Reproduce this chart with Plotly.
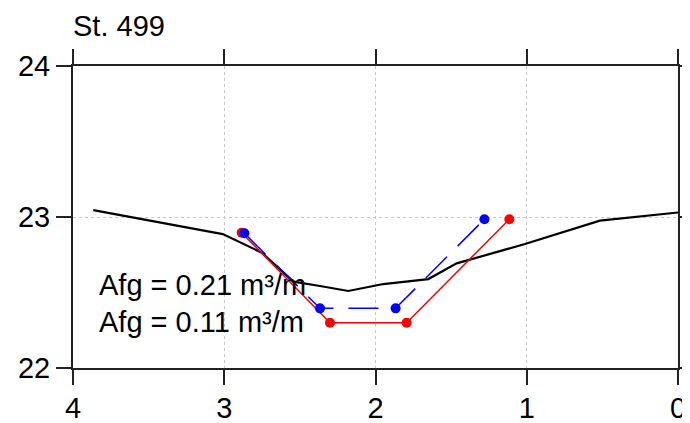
import plotly.graph_objects as go

# Profile (black)
profile_x = [3.866, 3.01, 2.752, 2.543, 2.367, 2.18, 1.948, 1.651, 1.463, 1.012, 0.516, 0.0]
profile_y = [23.046, 22.887, 22.764, 22.572, 22.543, 22.51, 22.556, 22.589, 22.693, 22.821, 22.976, 23.03]

# Red trench
red_x = [2.885, 2.301, 1.794, 1.115]
red_y = [22.896, 22.30, 22.30, 22.985]

# Blue trench (dashed)
blue_x = [2.867, 2.367, 1.867, 1.28]
blue_y = [22.892, 22.395, 22.395, 22.985]

title_text = "St. 499"
label_lines = ["Afg = 0.21 m³/m", "Afg = 0.11 m³/m"]
label_y = [22.55, 22.307]
label_x = 3.841

x_ticks = [4, 3, 2, 1, 0]
y_ticks = [22, 23, 24]

FONT = "Liberation Sans, Arial, sans-serif"

fig = go.Figure()
fig.add_trace(go.Scatter(x=profile_x, y=profile_y, mode="lines",
                         line=dict(color="black", width=2.2), showlegend=False))
fig.add_trace(go.Scatter(x=red_x, y=red_y, mode="lines+markers",
                         line=dict(color="red", width=1.5),
                         marker=dict(color="red", size=10), showlegend=False))
fig.add_trace(go.Scatter(x=blue_x, y=blue_y, mode="lines+markers",
                         line=dict(color="blue", width=1.5, dash="30px,15px"),
                         marker=dict(color="blue", size=10), showlegend=False))

for t, yy in zip(label_lines, label_y):
    fig.add_annotation(x=label_x, y=yy, xref="x", yref="y", text=t, showarrow=False,
                       xanchor="left", yanchor="middle",
                       font=dict(family=FONT, size=29, color="black"))

fig.add_annotation(x=0, y=1, xref="paper", yref="paper", text=title_text, showarrow=False,
                   xanchor="left", yanchor="bottom", yshift=22, xshift=-2,
                   font=dict(family=FONT, size=29, color="black"))

axis_common = dict(showline=True, linecolor="#222", linewidth=2, mirror="ticks",
                   ticks="outside", ticklen=15, tickwidth=2, tickcolor="#222",
                   showgrid=True, gridcolor="#c8c8c8", griddash="dot", gridwidth=1,
                   zeroline=False, automargin=False,
                   tickfont=dict(family=FONT, size=29, color="black"))

fig.update_layout(
    width=690, height=423,
    margin=dict(l=65, r=20, t=58, b=63, autoexpand=False),
    paper_bgcolor="white", plot_bgcolor="white",
    xaxis=dict(range=[4, 0], tickvals=x_ticks, ticklabelstandoff=-2, **axis_common),
    yaxis=dict(range=[22, 24], tickvals=y_ticks, **axis_common),
)

fig.write_html("out.html")
